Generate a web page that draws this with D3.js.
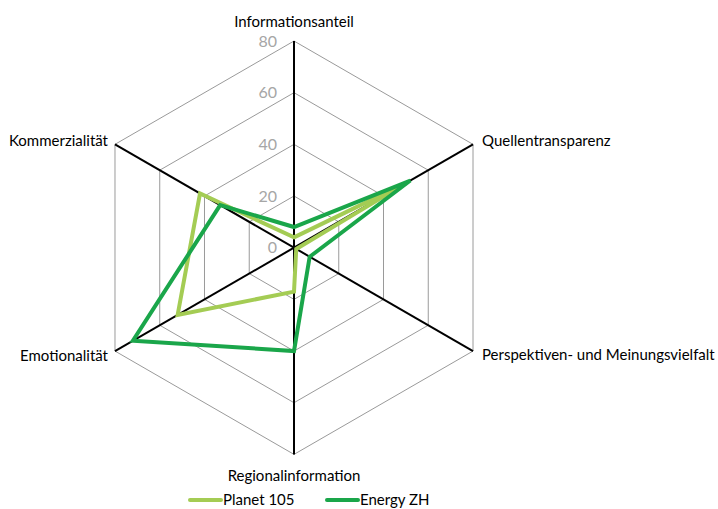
<!DOCTYPE html>
<html>
<head>
<meta charset="utf-8">
<script src="https://cdn.jsdelivr.net/npm/d3@7"></script>
<style>
  body { margin: 0; background: #fff; }
  text { font-family: Lato, "Open Sans", sans-serif; }
</style>
</head>
<body>
<div id="radar"></div>
<script>
var svgWidth = 718;
var svgHeight = 509;

// data
var axesLabels = ["Informationsanteil", "Quellentransparenz", "Perspektiven- und Meinungsvielfalt",
  "Regionalinformation", "Emotionalität", "Kommerzialität"];
var seriesNames = ["Planet 105", "Energy ZH"];
var planet105 = [4, 50, 1, 17, 52, 42];
var energyZH = [8, 52, 7, 40, 72, 33];
var tickValues = [0, 20, 40, 60, 80];

var colors = ["#a4cc54", "#1aa64a"];
var cx = 294, cy = 247.7, radius = 206.7;

var svg = d3.select("#radar")
  .append("svg")
  .attr("width", svgWidth)
  .attr("height", svgHeight);

var g = svg.append("g")
  .attr("transform", `translate(${cx}, ${cy})`);

var r = d3.scaleLinear().domain([0, 80]).range([0, radius]);
var angle = d3.scaleLinear().domain([0, axesLabels.length]).range([0, 2 * Math.PI]);

function pt(i, v) {
  var a = angle(i);
  return [r(v) * Math.sin(a), -r(v) * Math.cos(a)];
}

// grid hexagons
tickValues.slice(1).forEach(t => {
  g.append("polygon")
    .attr("points", axesLabels.map((d, i) => pt(i, t).join(",")).join(" "))
    .attr("fill", "none")
    .attr("stroke", "#9a9a9a")
    .attr("stroke-width", 1);
});

// axes
axesLabels.forEach((d, i) => {
  var p = pt(i, 80);
  g.append("line")
    .attr("x1", 0).attr("y1", 0)
    .attr("x2", p[0]).attr("y2", p[1])
    .attr("stroke", "#000")
    .attr("stroke-width", 2);
});

// tick labels
g.selectAll(".tick")
  .data(tickValues)
  .enter()
  .append("text")
  .attr("x", -17)
  .attr("y", d => -r(d))
  .attr("dy", "0.36em")
  .attr("text-anchor", "end")
  .attr("font-size", 16)
  .attr("fill", "#a6a6a6")
  .text(d => d);

// axis labels
axesLabels.forEach((d, i) => {
  var p = pt(i, 80);
  var x = p[0], y = p[1], anchor = "middle";
  if (i === 0) y -= 19;
  else if (i === 3) y += 21;
  else if (i < 3) { x += 9; anchor = "start"; y += (i === 1 ? -4 : 4); }
  else { x -= 7; anchor = "end"; y += (i === 5 ? -4 : 5); }
  g.append("text")
    .attr("x", x)
    .attr("y", y)
    .attr("dy", "0.35em")
    .attr("text-anchor", anchor)
    .attr("font-size", 15)
    .attr("fill", "#000")
    .text(d);
});

// series
var line = d3.line().curve(d3.curveLinearClosed);
[planet105, energyZH].forEach((vals, s) => {
  g.append("path")
    .attr("d", line(vals.map((v, i) => pt(i, v))))
    .attr("fill", "none")
    .attr("stroke", colors[s])
    .attr("stroke-width", 4)
    .attr("stroke-linejoin", "miter");
});

// legend
var legendX = [190, 327];
seriesNames.forEach((name, s) => {
  svg.append("line")
    .attr("x1", legendX[s]).attr("x2", legendX[s] + 31)
    .attr("y1", 500).attr("y2", 500)
    .attr("stroke", colors[s])
    .attr("stroke-width", 4)
    .attr("stroke-linecap", "round");
  svg.append("text")
    .attr("x", legendX[s] + 33)
    .attr("y", 500)
    .attr("dy", "0.36em")
    .attr("font-size", 15)
    .text(name);
});
</script>
</body>
</html>
